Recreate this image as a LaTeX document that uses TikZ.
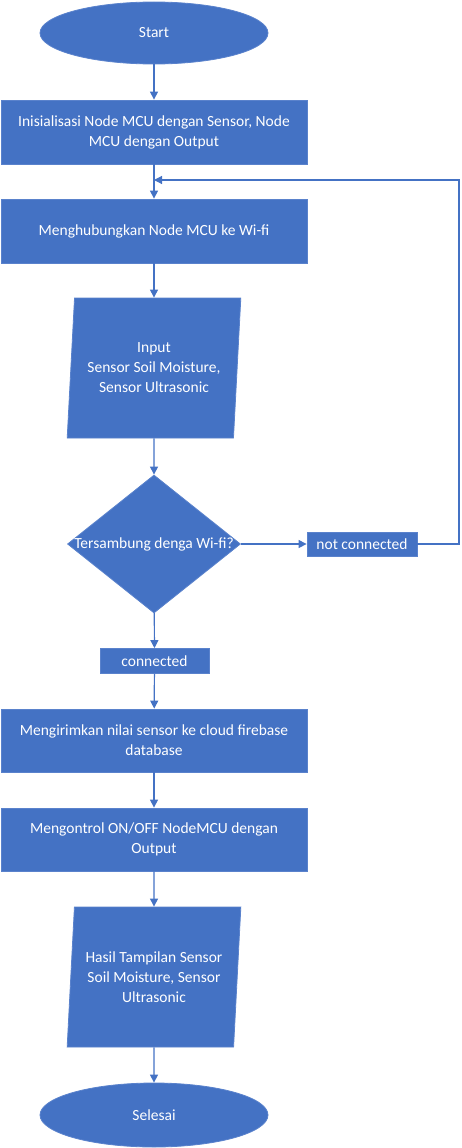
\documentclass[tikz,border=0pt]{standalone}
\usepackage{fontspec}
\setmainfont{Carlito}
\usepackage{tikz}
\usetikzlibrary{shapes.geometric,arrows.meta}
\definecolor{flowblue}{HTML}{4472C4}
\definecolor{flowedge}{HTML}{5A82CC}

\begin{document}
\begin{tikzpicture}[x=1pt, y=-1pt,
		every node/.style={font=\fontsize{15.5}{20}\selectfont, text=white, align=center},
		shapebox/.style={fill=flowblue, draw=flowedge, line width=0.8pt},
		procbox/.style={shapebox, rectangle, minimum width=306pt, minimum height=64pt, inner sep=0pt},
		termbox/.style={shapebox, ellipse, minimum width=228pt, minimum height=62pt, inner sep=0pt},
		iobox/.style={shapebox, trapezium, trapezium left angle=83, trapezium right angle=97, trapezium stretches=true, minimum width=174pt, minimum height=140pt, inner sep=0pt},
		tagbox/.style={shapebox, rectangle, minimum height=24pt, inner sep=0pt},
		flow/.style={draw=flowblue, line width=1.2pt, -{Triangle[width=8pt,length=8pt]}}]
		\useasboundingbox (0, 0) rectangle (462, 1148);
		% terminals, process boxes and in/out
		\node[termbox] (start) at (154, 33) {Start};
		\node[procbox] (init) at (154, 132) {Inisialisasi Node MCU dengan Sensor, Node\\MCU dengan Output};
		\node[procbox] (wifi) at (154, 231) {Menghubungkan Node MCU ke Wi-fi};
		\node[iobox] (input) at (154, 368) {Input\\Sensor Soil Moisture,\\Sensor Ultrasonic};
		\node[shapebox, diamond, minimum width=173pt, minimum height=138pt, inner sep=0pt,
			label={[text=white]center:Tersambung denga Wi-fi?}] (check) at (154, 544) {};
		\node[tagbox, minimum width=110pt] (notconn) at (362, 544) {not connected};
		\node[tagbox, minimum width=109pt, minimum height=25pt] (conn) at (154.5, 661) {connected};
		\node[procbox, minimum height=63pt] (send) at (154, 740.5) {Mengirimkan nilai sensor ke cloud firebase\\database};
		\node[procbox, minimum height=63pt] (control) at (154, 839.5) {Mengontrol ON/OFF NodeMCU dengan\\Output};
		\node[iobox] (result) at (154, 977) {Hasil Tampilan Sensor\\Soil Moisture, Sensor\\Ultrasonic};
		\node[termbox, minimum height=64pt] (stop) at (154, 1115) {Selesai};
		\coordinate (merge) at (154, 180);
		\coordinate (corner) at (459, 544);
		% connectors
		\draw[flow] (start) -- (init);
		\draw[flow] (init) -- (wifi);
		\draw[flow] (wifi) -- (input);
		\draw[flow] (input) -- (check);
		\draw[flow] (check) -- (notconn);
		\draw[flow] (check) -- (conn);
		\draw[flow] (conn) -- (send);
		\draw[flow] (send) -- (control);
		\draw[flow] (control) -- (result);
		\draw[flow] (result) -- (stop);
		\draw[flow] (notconn) -- (corner) |- (merge);
	\end{tikzpicture}
\end{document}
